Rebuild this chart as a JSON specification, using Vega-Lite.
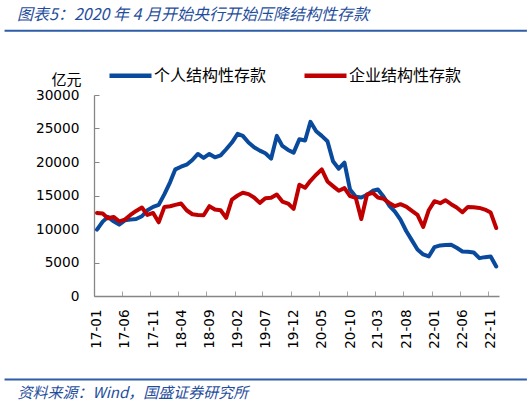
{
  "$schema": "https://vega.github.io/schema/vega-lite/v6.json",
  "width": 405,
  "height": 201,
  "autosize": {"type": "none"},
  "padding": {"left": 94, "top": 95, "right": 33, "bottom": 107},
  "background": "white",
  "config": {"view": {"stroke": null}, "axis": {"labelOverlap": false}},
  "title": {
    "text": "图表5：2020 年 4 月开始央行开始压降结构性存款",
    "anchor": "start",
    "frame": "group",
    "dx": -77,
    "offset": 0,
    "dy": 9,
    "baseline": "bottom",
    "font": "Noto Sans CJK SC",
    "fontSize": 16,
    "fontStyle": "italic",
    "fontWeight": "normal",
    "color": "#1F4E9C"
  },
  "data": {
    "values": [
      {"month": "2017-01-01", "个人结构性存款": 9900, "企业结构性存款": 12400},
      {"month": "2017-02-01", "个人结构性存款": 11100, "企业结构性存款": 12300},
      {"month": "2017-03-01", "个人结构性存款": 11800, "企业结构性存款": 11600},
      {"month": "2017-04-01", "个人结构性存款": 11150, "企业结构性存款": 11800},
      {"month": "2017-05-01", "个人结构性存款": 10650, "企业结构性存款": 11150},
      {"month": "2017-06-01", "个人结构性存款": 11300, "企业结构性存款": 11400},
      {"month": "2017-07-01", "个人结构性存款": 11400, "企业结构性存款": 12100},
      {"month": "2017-08-01", "个人结构性存款": 11500, "企业结构性存款": 12700},
      {"month": "2017-09-01", "个人结构性存款": 11900, "企业结构性存款": 13200},
      {"month": "2017-10-01", "个人结构性存款": 12800, "企业结构性存款": 12100},
      {"month": "2017-11-01", "个人结构性存款": 13300, "企业结构性存款": 12400},
      {"month": "2017-12-01", "个人结构性存款": 13600, "企业结构性存款": 11000},
      {"month": "2018-01-01", "个人结构性存款": 15200, "企业结构性存款": 13300},
      {"month": "2018-02-01", "个人结构性存款": 17000, "企业结构性存款": 13400},
      {"month": "2018-03-01", "个人结构性存款": 18900, "企业结构性存款": 13600},
      {"month": "2018-04-01", "个人结构性存款": 19300, "企业结构性存款": 13800},
      {"month": "2018-05-01", "个人结构性存款": 19600, "企业结构性存款": 12800},
      {"month": "2018-06-01", "个人结构性存款": 20300, "企业结构性存款": 12200},
      {"month": "2018-07-01", "个人结构性存款": 21200, "企业结构性存款": 12100},
      {"month": "2018-08-01", "个人结构性存款": 20600, "企业结构性存款": 12050},
      {"month": "2018-09-01", "个人结构性存款": 21200, "企业结构性存款": 13400},
      {"month": "2018-10-01", "个人结构性存款": 20700, "企业结构性存款": 12900},
      {"month": "2018-11-01", "个人结构性存款": 21000, "企业结构性存款": 12800},
      {"month": "2018-12-01", "个人结构性存款": 21900, "企业结构性存款": 11650},
      {"month": "2019-01-01", "个人结构性存款": 22900, "企业结构性存款": 14400},
      {"month": "2019-02-01", "个人结构性存款": 24200, "企业结构性存款": 15000},
      {"month": "2019-03-01", "个人结构性存款": 23900, "企业结构性存款": 15400},
      {"month": "2019-04-01", "个人结构性存款": 22900, "企业结构性存款": 15200},
      {"month": "2019-05-01", "个人结构性存款": 22200, "企业结构性存款": 14700},
      {"month": "2019-06-01", "个人结构性存款": 21700, "企业结构性存款": 13900},
      {"month": "2019-07-01", "个人结构性存款": 21300, "企业结构性存款": 14600},
      {"month": "2019-08-01", "个人结构性存款": 20500, "企业结构性存款": 14650},
      {"month": "2019-09-01", "个人结构性存款": 23900, "企业结构性存款": 15150},
      {"month": "2019-10-01", "个人结构性存款": 22400, "企业结构性存款": 14100},
      {"month": "2019-11-01", "个人结构性存款": 21800, "企业结构性存款": 13800},
      {"month": "2019-12-01", "个人结构性存款": 21400, "企业结构性存款": 13000},
      {"month": "2020-01-01", "个人结构性存款": 23400, "企业结构性存款": 16600},
      {"month": "2020-02-01", "个人结构性存款": 23200, "企业结构性存款": 16150},
      {"month": "2020-03-01", "个人结构性存款": 26000, "企业结构性存款": 17200},
      {"month": "2020-04-01", "个人结构性存款": 24600, "企业结构性存款": 18100},
      {"month": "2020-05-01", "个人结构性存款": 23900, "企业结构性存款": 18900},
      {"month": "2020-06-01", "个人结构性存款": 23100, "企业结构性存款": 17100},
      {"month": "2020-07-01", "个人结构性存款": 20100, "企业结构性存款": 16400},
      {"month": "2020-08-01", "个人结构性存款": 19000, "企业结构性存款": 15700},
      {"month": "2020-09-01", "个人结构性存款": 19900, "企业结构性存款": 16100},
      {"month": "2020-10-01", "个人结构性存款": 15900, "企业结构性存款": 14900},
      {"month": "2020-11-01", "个人结构性存款": 14800, "企业结构性存款": 14650},
      {"month": "2020-12-01", "个人结构性存款": 14700, "企业结构性存款": 11500},
      {"month": "2021-01-01", "个人结构性存款": 15100, "企业结构性存款": 15150},
      {"month": "2021-02-01", "个人结构性存款": 15700, "企业结构性存款": 15400},
      {"month": "2021-03-01", "个人结构性存款": 15900, "企业结构性存款": 14700},
      {"month": "2021-04-01", "个人结构性存款": 14800, "企业结构性存款": 14500},
      {"month": "2021-05-01", "个人结构性存款": 13500, "企业结构性存款": 13900},
      {"month": "2021-06-01", "个人结构性存款": 12600, "企业结构性存款": 13400},
      {"month": "2021-07-01", "个人结构性存款": 11400, "企业结构性存款": 13700},
      {"month": "2021-08-01", "个人结构性存款": 9700, "企业结构性存款": 13350},
      {"month": "2021-09-01", "个人结构性存款": 8300, "企业结构性存款": 12700},
      {"month": "2021-10-01", "个人结构性存款": 6950, "企业结构性存款": 12100},
      {"month": "2021-11-01", "个人结构性存款": 6200, "企业结构性存款": 10300},
      {"month": "2021-12-01", "个人结构性存款": 5900, "企业结构性存款": 12800},
      {"month": "2022-01-01", "个人结构性存款": 7300, "企业结构性存款": 14150},
      {"month": "2022-02-01", "个人结构性存款": 7550, "企业结构性存款": 13850},
      {"month": "2022-03-01", "个人结构性存款": 7600, "企业结构性存款": 14300},
      {"month": "2022-04-01", "个人结构性存款": 7650, "企业结构性存款": 13700},
      {"month": "2022-05-01", "个人结构性存款": 7200, "企业结构性存款": 13200},
      {"month": "2022-06-01", "个人结构性存款": 6650, "企业结构性存款": 12500},
      {"month": "2022-07-01", "个人结构性存款": 6600, "企业结构性存款": 13300},
      {"month": "2022-08-01", "个人结构性存款": 6500, "企业结构性存款": 13250},
      {"month": "2022-09-01", "个人结构性存款": 5650, "企业结构性存款": 13150},
      {"month": "2022-10-01", "个人结构性存款": 5800, "企业结构性存款": 12900},
      {"month": "2022-11-01", "个人结构性存款": 5900, "企业结构性存款": 12450},
      {"month": "2022-12-01", "个人结构性存款": 4400, "企业结构性存款": 10150}
    ]
  },
  "layer": [
    {
      "transform": [
        {"fold": ["个人结构性存款", "企业结构性存款"], "as": ["series", "value"]}
      ],
      "mark": {
        "type": "line",
        "strokeWidth": 4,
        "strokeJoin": "round",
        "strokeCap": "round"
      },
      "encoding": {
        "x": {
          "field": "month",
          "type": "temporal",
          "scale": {
            "type": "utc",
            "domain": [
              {"year": 2016, "month": 12, "date": 16, "utc": true},
              {"year": 2022, "month": 12, "date": 16, "utc": true}
            ]
          },
          "axis": {
            "values": [
              {"year": 2017, "month": 1, "date": 1, "utc": true},
              {"year": 2017, "month": 6, "date": 1, "utc": true},
              {"year": 2017, "month": 11, "date": 1, "utc": true},
              {"year": 2018, "month": 4, "date": 1, "utc": true},
              {"year": 2018, "month": 9, "date": 1, "utc": true},
              {"year": 2019, "month": 2, "date": 1, "utc": true},
              {"year": 2019, "month": 7, "date": 1, "utc": true},
              {"year": 2019, "month": 12, "date": 1, "utc": true},
              {"year": 2020, "month": 5, "date": 1, "utc": true},
              {"year": 2020, "month": 10, "date": 1, "utc": true},
              {"year": 2021, "month": 3, "date": 1, "utc": true},
              {"year": 2021, "month": 8, "date": 1, "utc": true},
              {"year": 2022, "month": 1, "date": 1, "utc": true},
              {"year": 2022, "month": 6, "date": 1, "utc": true},
              {"year": 2022, "month": 11, "date": 1, "utc": true}
            ],
            "tickCount": 30,
            "format": "%y-%m",
            "labelAngle": -90,
            "labelFont": "DejaVu Sans",
            "labelFontSize": 13.5,
            "labelColor": "#000000",
            "labelFlush": false,
            "labelOverlap": false,
            "labelPadding": 18,
            "labelOffset": 2.9,
            "tickOffset": -2.9,
            "tickSize": -5,
            "tickColor": "#A6A6A6",
            "domainColor": "#868686",
            "domainWidth": 1.3,
            "grid": false,
            "title": "资料来源：Wind，国盛证券研究所",
            "titleX": -77,
            "titleY": 96,
            "titleAngle": 0,
            "titleAlign": "left",
            "titleBaseline": "middle",
            "titleFont": "Noto Sans CJK SC",
            "titleFontSize": 15,
            "titleFontStyle": "italic",
            "titleFontWeight": "normal",
            "titleColor": "#1F4E9C"
          }
        },
        "y": {
          "field": "value",
          "type": "quantitative",
          "scale": {"domain": [0, 30000], "nice": false},
          "axis": {
            "values": [0, 5000, 10000, 15000, 20000, 25000, 30000],
            "tickCount": 20,
            "format": "d",
            "labelFont": "DejaVu Sans",
            "labelFontSize": 13.7,
            "labelColor": "#000000",
            "labelOverlap": false,
            "labelPadding": 20,
            "tickSize": -5,
            "tickColor": "#868686",
            "domainColor": "#868686",
            "domainWidth": 1.3,
            "grid": false,
            "title": "亿元",
            "titleAngle": 0,
            "titleX": -28,
            "titleY": -16,
            "titleAlign": "center",
            "titleBaseline": "middle",
            "titleFont": "Noto Sans CJK SC",
            "titleFontSize": 15,
            "titleFontWeight": "normal",
            "titleColor": "#000000"
          }
        },
        "color": {
          "field": "series",
          "type": "nominal",
          "scale": {
            "domain": ["个人结构性存款", "企业结构性存款"],
            "range": ["#0A4A9C", "#C00000"]
          },
          "legend": {
            "orient": "none",
            "legendX": 13,
            "legendY": -43,
            "direction": "horizontal",
            "columns": 2,
            "title": null,
            "padding": 0,
            "symbolType": "stroke",
            "symbolSize": 1764,
            "symbolStrokeWidth": 4.5,
            "labelFont": "Noto Sans CJK SC",
            "labelFontSize": 16,
            "labelColor": "#000000",
            "labelOffset": 0,
            "columnPadding": 28
          }
        }
      }
    },
    {
      "data": {"values": [{}]},
      "mark": {"type": "rule", "stroke": "#2E5DA8", "strokeWidth": 2},
      "encoding": {
        "x": {"datum": {"year": 2015, "month": 8, "date": 20, "utc": true}, "type": "temporal"},
        "x2": {"datum": {"year": 2023, "month": 5, "date": 16, "utc": true}},
        "y": {"datum": 39600, "type": "quantitative"}
      }
    },
    {
      "data": {"values": [{}]},
      "mark": {"type": "rule", "stroke": "#2E5DA8", "strokeWidth": 2},
      "encoding": {
        "x": {"datum": {"year": 2015, "month": 8, "date": 20, "utc": true}, "type": "temporal"},
        "x2": {"datum": {"year": 2023, "month": 5, "date": 16, "utc": true}},
        "y": {"datum": -12450, "type": "quantitative"}
      }
    }
  ]
}
